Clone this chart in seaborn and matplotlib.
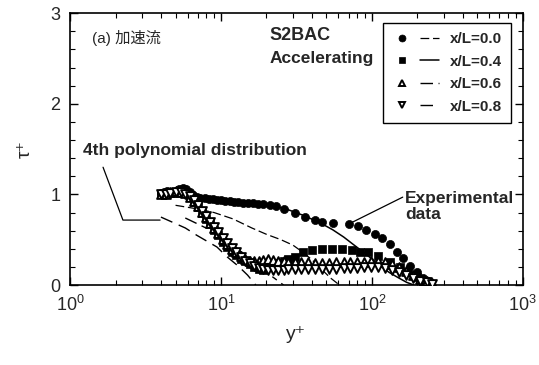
import numpy as np
import pandas as pd
import matplotlib
matplotlib.use("Agg")
import matplotlib.pyplot as plt
from matplotlib.lines import Line2D
from matplotlib.legend_handler import HandlerTuple
from matplotlib.ticker import MultipleLocator, LogLocator, NullFormatter
import seaborn as sns

# ---- experimental data (y+, tau+) ----
yp_00 = [4.0, 4.2, 4.4, 4.6, 4.8, 5.0, 5.3, 5.6, 5.9, 6.2, 6.5, 6.9, 7.3, 7.8, 8.3,
         8.8, 9.4, 10.0, 10.7, 11.4, 12.2, 13.0, 14.0, 15.0, 16.2, 17.6, 19, 21, 23,
         26, 31, 36, 42, 47, 55, 71, 81, 92, 105, 117, 132, 146, 160, 178, 199, 218, 235]
tau_00 = [1.02, 1.03, 1.04, 1.03, 1.03, 1.04, 1.06, 1.07, 1.06, 1.03, 0.99, 0.97, 0.96,
          0.96, 0.95, 0.95, 0.94, 0.94, 0.93, 0.93, 0.92, 0.92, 0.91, 0.91, 0.90, 0.89,
          0.89, 0.88, 0.87, 0.84, 0.79, 0.75, 0.72, 0.70, 0.68, 0.67, 0.65, 0.61, 0.56,
          0.52, 0.45, 0.37, 0.30, 0.21, 0.14, 0.08, 0.04]

yp_04 = [4.0, 4.3, 4.6, 5.0, 5.4, 5.8, 6.2, 6.6, 7.0, 7.5, 8.0, 8.5, 9.0, 9.6, 10.3, 11,
         11.8, 12.6, 13.5, 14.5, 15.5, 16.6, 17.8, 19.0, 20.5, 22, 24, 26, 28, 31, 35,
         40, 47, 54, 63, 74, 83, 94, 110, 132, 153, 173, 199, 218]
tau_04 = [1.00, 1.01, 1.02, 1.02, 1.03, 1.02, 0.98, 0.92, 0.86, 0.80, 0.73, 0.67, 0.61,
          0.55, 0.48, 0.42, 0.37, 0.33, 0.29, 0.26, 0.23, 0.20, 0.18, 0.17, 0.20, 0.22,
          0.24, 0.27, 0.29, 0.31, 0.36, 0.39, 0.40, 0.40, 0.40, 0.39, 0.37, 0.36, 0.32,
          0.25, 0.20, 0.14, 0.09, 0.03]

yp_06 = [4.0, 4.3, 4.6, 5.0, 5.4, 5.8, 6.2, 6.6, 7.0, 7.5, 8.0, 8.5, 9.0, 9.6, 10.3, 11,
         11.8, 12.6, 13.5, 14.5, 15.5, 16.6, 17.8, 19.0, 20.5, 22, 24, 26, 28, 31, 34,
         38, 42, 47, 52, 58, 65, 72, 80, 89, 99, 110, 122, 136, 151, 168, 187, 208, 231, 250]
tau_06 = [1.00, 1.01, 1.03, 1.04, 1.03, 1.02, 0.97, 0.93, 0.87, 0.81, 0.75, 0.69, 0.63,
          0.57, 0.51, 0.45, 0.40, 0.36, 0.32, 0.29, 0.27, 0.26, 0.26, 0.28, 0.29, 0.28,
          0.27, 0.26, 0.25, 0.25, 0.25, 0.25, 0.24, 0.24, 0.24, 0.25, 0.25, 0.25, 0.25,
          0.25, 0.26, 0.26, 0.25, 0.23, 0.20, 0.16, 0.11, 0.07, 0.04, 0.02]

yp_08 = yp_06
tau_08 = [1.00, 1.01, 1.02, 1.03, 1.03, 1.01, 0.98, 0.94, 0.88, 0.82, 0.76, 0.70, 0.64,
          0.58, 0.52, 0.46, 0.41, 0.36, 0.31, 0.27, 0.24, 0.21, 0.19, 0.18, 0.17, 0.17,
          0.17, 0.17, 0.18, 0.18, 0.18, 0.18, 0.18, 0.18, 0.18, 0.18, 0.19, 0.19, 0.19,
          0.20, 0.20, 0.20, 0.19, 0.17, 0.14, 0.11, 0.08, 0.05, 0.03, 0.01]

# ---- 4th polynomial distributions (y+, tau+) ----
fit_yp_00 = [5, 7, 9, 12, 16, 20, 25, 30, 35, 40, 46, 53, 61]
fit_tau_00 = [0.88, 0.84, 0.80, 0.73, 0.63, 0.56, 0.50, 0.44, 0.36, 0.28, 0.18, 0.08, 0.0]

fit_yp_04 = [4, 6, 10, 15, 20, 27, 35, 45, 55, 65, 75, 90, 110, 130, 150, 170, 190]
fit_tau_04 = [1.00, 0.98, 0.95, 0.92, 0.89, 0.84, 0.77, 0.69, 0.61, 0.53, 0.45, 0.35,
              0.23, 0.14, 0.08, 0.03, 0.0]

fit_yp_06 = [5.8, 7.3, 9.4, 12.7, 14.9, 18, 22, 25, 26]
fit_tau_06 = [0.74, 0.66, 0.57, 0.41, 0.31, 0.20, 0.09, 0.02, 0.0]

fit_yp_08 = [4.0, 5.8, 6.9, 9.4, 11, 13, 15, 17]
fit_tau_08 = [0.75, 0.63, 0.55, 0.42, 0.31, 0.21, 0.11, 0.0]

labels = ["x/L=0.0", "x/L=0.4", "x/L=0.6", "x/L=0.8"]

sns.set_style("ticks")
plt.rcParams["font.family"] = ["Liberation Sans", "DejaVu Sans"]
plt.rcParams["mathtext.default"] = "regular"

fig = plt.figure(figsize=(5.39, 3.65), dpi=100)
ax = fig.add_axes([0.130, 0.219, 0.840, 0.745])

exp_sets = [(yp_00, tau_00), (yp_04, tau_04), (yp_06, tau_06), (yp_08, tau_08)]
marker_styles = [
    dict(marker="o", color="black", edgecolor="black", s=34, linewidth=0.5),
    dict(marker="s", color="black", edgecolor="black", s=30, linewidth=0.5),
    dict(marker="^", color="white", edgecolor="black", s=40, linewidth=1.4),
    dict(marker="v", color="white", edgecolor="black", s=40, linewidth=1.4),
]
line_styles = [
    dict(lw=0.9, linestyle=(0, (7, 3))),
    dict(lw=1.1, linestyle="-"),
    dict(lw=1.0, linestyle=(0, (9, 4, 4, 4))),
    dict(lw=1.0, linestyle=(0, (9, 5))),
]
fit_sets = [(fit_yp_00, fit_tau_00), (fit_yp_04, fit_tau_04),
            (fit_yp_06, fit_tau_06), (fit_yp_08, fit_tau_08)]

for (fx, fy), ls in zip(fit_sets, line_styles):
    df = pd.DataFrame({"yp": fx, "tau": fy})
    sns.lineplot(data=df, x="yp", y="tau", ax=ax, color="black", sort=False,
                 estimator=None, **ls)

for (ex, ey), ms in zip(exp_sets, marker_styles):
    df = pd.DataFrame({"yp": ex, "tau": ey})
    sns.scatterplot(data=df, x="yp", y="tau", ax=ax, zorder=3, **ms)

ax.set_xscale("log")
ax.set_xlim(1, 1000)
ax.set_ylim(0, 3)
ax.yaxis.set_major_locator(MultipleLocator(1))
ax.yaxis.set_minor_locator(MultipleLocator(0.2))
ax.xaxis.set_major_locator(LogLocator(base=10))
ax.xaxis.set_minor_locator(LogLocator(base=10, subs=np.arange(2, 10)))
ax.xaxis.set_minor_formatter(NullFormatter())
ax.tick_params(which="both", direction="in", top=True, right=True, color="black")
ax.tick_params(which="major", length=6, width=1.0, labelsize=13, pad=7)
ax.tick_params(which="minor", length=3.5, width=0.8)
for sp in ax.spines.values():
    sp.set_linewidth(1.2)
    sp.set_color("black")

ax.set_xlabel("y⁺", fontsize=14, labelpad=8)
ax.set_ylabel("τ⁺", fontsize=14, labelpad=12)

# annotations
ax.text(0.049, 0.908, "(a) 加速流", transform=ax.transAxes, fontsize=11, va="center",
        family=["Liberation Sans", "Noto Sans CJK JP"])
ax.text(0.441, 0.919, "S2BAC", transform=ax.transAxes, fontsize=13, weight="bold",
        va="center")
ax.text(0.441, 0.835, "Accelerating", transform=ax.transAxes, fontsize=12.5,
        weight="bold", va="center")
ax.text(0.029, 0.496, "4th polynomial distribution", transform=ax.transAxes,
        fontsize=12.5, weight="bold", va="center")
ax.text(0.740, 0.29, "Experimental\ndata", transform=ax.transAxes, fontsize=12.5,
        weight="bold", va="center", linespacing=1.05)

# pointer lines
ax.plot([1.654, 2.24, 3.95], [1.30, 0.717, 0.717], color="black", lw=0.9)
ax.plot([71.5, 160], [0.68, 0.97], color="black", lw=0.9)

# legend: marker and line shown side by side
handles = []
for ms, ls in zip(marker_styles, line_styles):
    mk = Line2D([], [], marker=ms["marker"], linestyle="none",
                markerfacecolor=ms["color"], markeredgecolor="black",
                markersize=5, markeredgewidth=ms["linewidth"])
    ln = Line2D([], [], color="black", lw=ls["lw"], linestyle=ls["linestyle"])
    handles.append((mk, ln))
leg = ax.legend(handles, labels, handler_map={tuple: HandlerTuple(ndivide=None, pad=0.6)},
                loc="upper left", bbox_to_anchor=(0.691, 0.963),
                prop={"size": 11, "weight": "bold"},
                frameon=True, fancybox=False, edgecolor="black", framealpha=1,
                handlelength=3.1, handletextpad=0.7, labelspacing=0.55,
                borderpad=0.6, borderaxespad=0)
leg.get_frame().set_linewidth(1.0)

fig.savefig("out.png", dpi=100)
